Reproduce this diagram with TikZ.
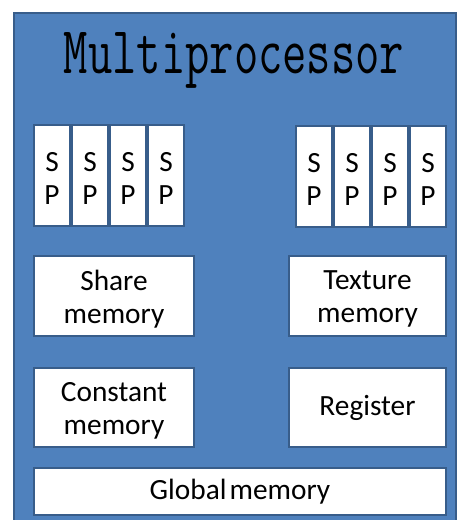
\documentclass[tikz,border=0pt]{standalone}
\usepackage{fontspec}
\setmainfont{Carlito}
\definecolor{mpblue}{HTML}{4F81BD}
\definecolor{mpborder}{HTML}{385D8A}
\tikzset{
  boxtext/.style={inner sep=0pt, align=center, text=black, font=\fontsize{22pt}{24.75pt}\selectfont},
  spbox/.style={draw=mpborder, line width=1.5pt, fill=white, minimum width=27pt, minimum height=75.75pt, inner sep=0pt,
    label={[boxtext, yshift=-2.5pt]center:{S\\P}}},
  membox/.style={draw=mpborder, line width=1.5pt, fill=white, minimum width=120pt, minimum height=60pt, inner sep=0pt, boxtext},
  twoline/.style={label={[boxtext, yshift=-2.5pt]center:{#1}}},
}
\begin{document}
\begin{tikzpicture}[x=0.75pt,y=-0.75pt]
\useasboundingbox (0,0) rectangle (457,520);
\begin{scope}
\clip (0,0) rectangle (457,520);
\draw[draw=mpborder, line width=1.5pt, fill=mpblue] (14,13) rectangle (456,530);
\end{scope}
\node[anchor=base, inner sep=0pt, text=black] (title) at (234,74)
  {\scalebox{1.02}[1.45]{\ttfamily\fontsize{34.7pt}{36pt}\selectfont Multiprocessor}};
% left SP group
\node[spbox] (sp1) at (52,175.5) {};
\node[spbox] (sp2) at (90,175.5) {};
\node[spbox] (sp3) at (128,175.5) {};
\node[spbox] (sp4) at (166,175.5) {};
% right SP group
\node[spbox] (sp5) at (314,176.5) {};
\node[spbox] (sp6) at (352,176.5) {};
\node[spbox] (sp7) at (390,176.5) {};
\node[spbox] (sp8) at (428,176.5) {};
% memories
\node[membox, twoline={Share\\memory}] (share) at (114,296) {};
\node[membox, minimum width=117.75pt, twoline={Texture\\memory}] (texture) at (367.5,296) {};
\node[membox, minimum height=59.25pt, twoline={Constant\\memory}] (constant) at (114,407.5) {};
\node[membox, minimum width=117.75pt, minimum height=59.25pt] (register) at (367.5,407.5) {Register};
\node[membox, minimum width=309pt, minimum height=35.25pt] (global) at (240,491.5) {Global\hspace{-0.12em} memory};
\end{tikzpicture}
\end{document}
